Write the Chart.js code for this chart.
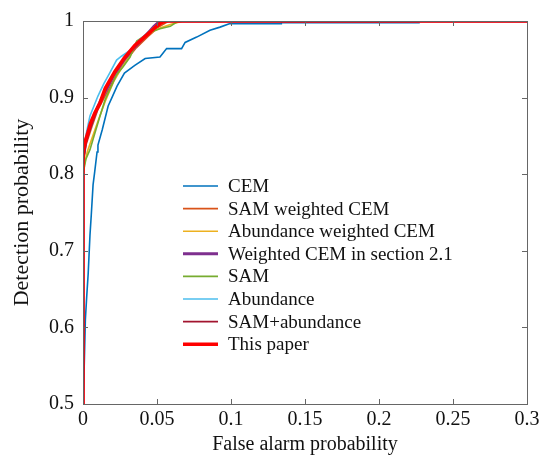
<!DOCTYPE html>
<html>
<head>
<meta charset="utf-8">
<script src="https://cdn.jsdelivr.net/npm/chart.js@4/dist/chart.umd.min.js"></script>
<style>
html,body{margin:0;padding:0;background:#fff;}
#wrap{width:546px;height:457px;position:relative;}
</style>
</head>
<body>
<div id="wrap"><canvas id="c" width="546" height="457"></canvas></div>
<script>
// ---- data (false alarm probability, detection probability) ----
const seriesNames = ['CEM','SAM weighted CEM','Abundance weighted CEM','Weighted CEM in section 2.1','SAM','Abundance','SAM+abundance','This paper'];
const xTickLabels = ['0','0.05','0.1','0.15','0.2','0.25','0.3'];
const yTickLabels = ['0.5','0.6','0.7','0.8','0.9','1'];

const cem = [[0,0.5],[0.0007,0.54],[0.0016,0.61],[0.0025,0.64],[0.0035,0.67],[0.0047,0.72],[0.0056,0.747],[0.0068,0.786],[0.0079,0.803],[0.0095,0.829],[0.0101,0.838],[0.013,0.858],[0.017,0.889],[0.020,0.902],[0.023,0.915],[0.028,0.932],[0.035,0.942],[0.042,0.951],[0.052,0.953],[0.0565,0.964],[0.0666,0.964],[0.069,0.972],[0.0768,0.979],[0.0858,0.988],[0.0926,0.992],[0.0993,0.9966],[0.134,0.9966],[0.134,0.9977],[0.227,0.9977],[0.227,1],[0.3,1]];
const samWeighted = [[0,0.5],[0,0.81],[0.002,0.838],[0.006,0.862],[0.010,0.884],[0.016,0.906],[0.022,0.928],[0.029,0.948],[0.036,0.965],[0.044,0.980],[0.051,0.992],[0.058,1],[0.3,1]];
const abundWeighted = [[0,0.5],[0,0.805],[0.003,0.83],[0.007,0.852],[0.011,0.874],[0.015,0.895],[0.021,0.922],[0.028,0.945],[0.035,0.965],[0.043,0.982],[0.052,0.991],[0.060,0.996],[0.068,1],[0.3,1]];
const weightedCem = [[0,0.5],[0,0.82],[0.002,0.845],[0.006,0.868],[0.010,0.888],[0.015,0.908],[0.021,0.930],[0.028,0.950],[0.035,0.966],[0.042,0.980],[0.048,0.993],[0.052,1],[0.3,1]];
const sam = [[0,0.5],[0,0.80],[0.002,0.82],[0.0047,0.832],[0.0081,0.854],[0.0115,0.876],[0.0149,0.897],[0.018,0.910],[0.0227,0.930],[0.027,0.940],[0.0318,0.953],[0.0363,0.974],[0.045,0.985],[0.052,0.990],[0.059,0.993],[0.062,0.997],[0.065,1],[0.3,1]];
const abundance = [[0,0.5],[0,0.82],[0.0015,0.845],[0.0025,0.856],[0.0047,0.876],[0.0101,0.902],[0.014,0.918],[0.018,0.932],[0.0227,0.949],[0.026,0.954],[0.032,0.962],[0.038,0.975],[0.045,0.987],[0.050,0.995],[0.054,1],[0.3,1]];
const samAbund = [[0,0.5],[0,0.815],[0.002,0.84],[0.005,0.86],[0.009,0.883],[0.014,0.905],[0.020,0.928],[0.027,0.948],[0.034,0.965],[0.041,0.979],[0.048,0.991],[0.055,1],[0.3,1]];
const thisPaper = [[0,0.5],[0,0.829],[0.0014,0.842],[0.003,0.852],[0.005,0.866],[0.008,0.880],[0.0115,0.893],[0.015,0.912],[0.0216,0.934],[0.028,0.952],[0.035,0.968],[0.042,0.980],[0.049,0.992],[0.053,0.998],[0.056,1],[0.3,1]];

const allSeries = [cem, samWeighted, abundWeighted, weightedCem, sam, abundance, samAbund, thisPaper];
const colors = ['#0072BD','#D95319','#EDB120','#7E2F8E','#77AC30','#4DBEEE','#A2142F','#FF0000'];
const widths = [1.6,1.6,1.6,3,1.6,1.6,1.6,3.6];

const FONT = "'Liberation Serif','Times New Roman',serif";

const datasets = allSeries.map((s,i)=>({
  label: seriesNames[i],
  data: s.map(p=>({x:p[0], y:p[1]})),
  borderColor: colors[i],
  backgroundColor: colors[i],
  borderWidth: widths[i],
  pointRadius: 0,
  tension: 0,
  fill: false,
  order: allSeries.length - i
}));

const framePlugin = {
  id:'frame',
  afterDatasetsDraw(chart){
    const {ctx, chartArea:a, scales} = chart;
    ctx.save();
    ctx.strokeStyle = '#666';
    ctx.lineWidth = 1;
    ctx.strokeRect(Math.round(a.left)+0.5, Math.round(a.top)+0.5, Math.round(a.right-a.left), Math.round(a.bottom-a.top));
    const tl = 5;
    ctx.beginPath();
    scales.x.ticks.forEach(t=>{
      const x = Math.round(scales.x.getPixelForValue(t.value))+0.5;
      ctx.moveTo(x, a.bottom); ctx.lineTo(x, a.bottom-tl);
      ctx.moveTo(x, a.top); ctx.lineTo(x, a.top+tl);
    });
    scales.y.ticks.forEach(t=>{
      const y = Math.round(scales.y.getPixelForValue(t.value))+0.5;
      ctx.moveTo(a.left, y); ctx.lineTo(a.left+tl, y);
      ctx.moveTo(a.right, y); ctx.lineTo(a.right-tl, y);
    });
    ctx.stroke();
    // legend
    const lx0 = 183, lx1 = 218, tx = 228, y0 = 186, dy = 22.6;
    ctx.font = "19px " + FONT;
    ctx.textBaseline = 'middle';
    ctx.textAlign = 'left';
    chart.data.datasets.forEach((d,i)=>{
      const y = y0 + i*dy;
      ctx.strokeStyle = d.borderColor;
      ctx.lineWidth = d.borderWidth;
      ctx.beginPath(); ctx.moveTo(lx0,y); ctx.lineTo(lx1,y); ctx.stroke();
      ctx.fillStyle = '#111';
      ctx.fillText(d.label, tx, y+1);
    });
    ctx.restore();
  }
};

new Chart(document.getElementById('c'), {
  type:'line',
  data:{datasets},
  options:{
    responsive:false,
    animation:false,
    layout:{padding:{top:18,right:19,left:0,bottom:0}},
    plugins:{legend:{display:false}, tooltip:{enabled:false}},
    scales:{
      x:{
        type:'linear', min:0, max:0.3,
        grid:{display:false, drawTicks:false},
        border:{display:false},
        ticks:{stepSize:0.05, color:'#111', padding:4, font:{family:FONT,size:20},
          callback:(v,i)=>xTickLabels[i]},
        title:{display:true, text:'False alarm probability', color:'#111', font:{family:FONT,size:20}, padding:{top:0,bottom:0}},
        afterFit(s){ s.height = 53; }
      },
      y:{
        type:'linear', min:0.5, max:1,
        grid:{display:false, drawTicks:false},
        border:{display:false},
        ticks:{stepSize:0.1, color:'#111', padding:9, font:{family:FONT,size:20},
          callback:(v,i)=>yTickLabels[i]},
        title:{display:true, text:'Detection probability', color:'#111', font:{family:FONT,size:22}, padding:{top:9,bottom:0}},
        afterFit(s){ s.width = 83; }
      }
    }
  },
  plugins:[framePlugin]
});
</script>
</body>
</html>
